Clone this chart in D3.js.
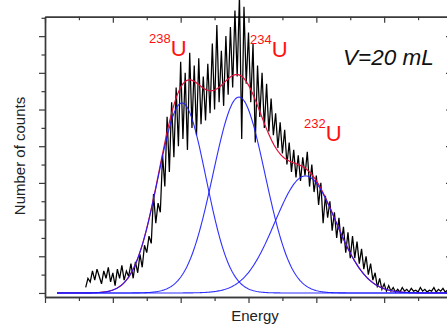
<!DOCTYPE html>
<html>
<head>
<meta charset="utf-8">
<script src="https://cdn.jsdelivr.net/npm/d3@7"></script>
<style>
  html, body { margin: 0; padding: 0; background: #fff; }
  svg { display: block; }
  text { font-family: "Liberation Sans", Arial, sans-serif; }
</style>
</head>
<body>
<svg id="chart" width="447" height="329"></svg>
<script>
// ---------------- DATA ----------------
// Measured spectrum: counts per channel, starting at channel 18
const firstChannel = 18;
const counts = [
  3, 8, 6, 12, 7, 13, 9, 5, 12, 8,
  14, 6, 11, 4, 13, 8, 15, 7, 12, 9,
  16, 8, 17, 11, 21, 14, 26, 22, 31, 27,
  54, 38, 49, 44, 75, 58, 96, 66, 104, 74,
  112, 80, 126, 84, 120, 78, 131, 90, 124, 86,
  128, 92, 118, 94, 125, 98, 136, 100, 146, 104,
  132, 102, 140, 108, 145, 112, 154, 118, 162, 84,
  156, 114, 142, 104, 136, 82, 124, 96, 120, 90,
  114, 88, 106, 86, 98, 79, 93, 76, 89, 70,
  82, 66, 78, 63, 75, 61, 74, 64, 77, 58,
  70, 55, 64, 48, 60, 38, 53, 41, 50, 34,
  44, 30, 41, 27, 36, 22, 33, 19, 31, 19,
  28, 16, 24, 13, 20, 10, 16, 7, 11, 3,
  8, 2, 5, 1, 4, 1, 3, 0.5, 2, 0.5,
  3, 1, 2, 0.5, 2.5, 1, 1.5, 0.5, 3, 1,
  2, 0.5, 1.5, 1, 3, 0.5, 2, 1, 2.5, 0.5,
  1.5, 1, 2
];

// Gaussian fit components
const peakNames   = ["238", "234", "232"];
const peakCenters = [60.6, 85.8, 115.2];   // channel
const peakWidths  = [10.6, 11.5, 13.5];    // sigma, channels
const peakHeights = [103.6, 106.8, 63.8];  // counts
const fitStart = 5.3, fitEnd = 180;

// Axis ticks (no tick labels shown)
const xMajorTicks = [0, 30, 60, 90, 120, 150, 180];
const xMinorTicks = [15, 45, 75, 105, 135, 165];
const yMajorTicks = [0, 20, 40, 60, 80, 100, 120, 140];
const yMinorTicks = [10, 30, 50, 70, 90, 110, 130, 150];

const xTitle = "Energy";
const yTitle = "Number of counts";
const volumeLabel = "V=20 mL";

// ---------------- LAYOUT ----------------
const svg = d3.select("#chart");
const mLeft = 45, mRight = 452, mTop = 16.7, mBottom = 297;
const x = d3.scaleLinear().domain([0, 180]).range([mLeft, mRight]);
const y = d3.scaleLinear().domain([-2.2, 150.6]).range([mBottom, mTop]);
const axisColor = "#3a3a3a";

function styleAxis(g) {
  g.selectAll("path.domain").attr("stroke", axisColor).attr("stroke-width", 1.4);
  g.selectAll(".tick line").attr("stroke", axisColor).attr("stroke-width", 1.2);
  g.selectAll(".tick text").remove();
}

// bottom axis (ticks outward)
svg.append("g").attr("transform", `translate(0,${mBottom})`)
  .call(d3.axisBottom(x).tickValues(xMajorTicks).tickSize(6).tickSizeOuter(0).tickFormat(""))
  .call(styleAxis);
svg.append("g").attr("transform", `translate(0,${mBottom})`)
  .call(d3.axisBottom(x).tickValues(xMinorTicks).tickSize(4).tickSizeOuter(0).tickFormat(""))
  .call(styleAxis);
// top axis (ticks inward)
svg.append("g").attr("transform", `translate(0,${mTop})`)
  .call(d3.axisBottom(x).tickValues(xMajorTicks).tickSize(6).tickSizeOuter(0).tickFormat(""))
  .call(styleAxis);
svg.append("g").attr("transform", `translate(0,${mTop})`)
  .call(d3.axisBottom(x).tickValues(xMinorTicks).tickSize(3.5).tickSizeOuter(0).tickFormat(""))
  .call(styleAxis);
// left axis (ticks outward)
svg.append("g").attr("transform", `translate(${mLeft},0)`)
  .call(d3.axisLeft(y).tickValues(yMajorTicks).tickSize(6).tickSizeOuter(0).tickFormat(""))
  .call(styleAxis);
svg.append("g").attr("transform", `translate(${mLeft},0)`)
  .call(d3.axisLeft(y).tickValues(yMinorTicks).tickSize(3.5).tickSizeOuter(0).tickFormat(""))
  .call(styleAxis);
// right axis (ticks inward)
svg.append("g").attr("transform", `translate(${mRight},0)`)
  .call(d3.axisLeft(y).tickValues(yMajorTicks).tickSize(6).tickSizeOuter(0).tickFormat(""))
  .call(styleAxis);
svg.append("g").attr("transform", `translate(${mRight},0)`)
  .call(d3.axisLeft(y).tickValues(yMinorTicks).tickSize(3.5).tickSizeOuter(0).tickFormat(""))
  .call(styleAxis);

// ---------------- MARKS ----------------
const measured = counts.map((c, i) => ({ ch: firstChannel + i, c }));
const line = d3.line().x(d => x(d.ch)).y(d => y(d.c));

// spectrum
svg.append("path").datum(measured)
  .attr("d", line).attr("fill", "none")
  .attr("stroke", "#000").attr("stroke-width", 1.25).attr("stroke-linejoin", "miter");

const gauss = (k, ch) => peakHeights[k] * Math.exp(-((ch - peakCenters[k]) ** 2) / (2 * peakWidths[k] ** 2));
const fitCh = d3.range(fitStart, fitEnd + 0.001, 0.5);

// total fit
svg.append("path")
  .datum(fitCh.map(ch => ({ ch, c: d3.sum(peakCenters, (_, k) => gauss(k, ch)) })))
  .attr("d", line).attr("fill", "none")
  .attr("stroke", "#e0103a").attr("stroke-width", 1.2);

// components
peakCenters.forEach((_, k) => {
  svg.append("path")
    .datum(fitCh.map(ch => ({ ch, c: gauss(k, ch) })))
    .attr("d", line).attr("fill", "none")
    .attr("stroke", "#1a1aff").attr("stroke-width", 1.1).attr("stroke-opacity", 0.9);
});

// ---------------- TEXT ----------------
const peakLabelPos = [
  { ch: 46.0, c: 129.2 },
  { ch: 90.7, c: 128.6 },
  { ch: 114.6, c: 82.8 }
];
peakNames.forEach((name, k) => {
  const t = svg.append("text")
    .attr("x", x(peakLabelPos[k].ch)).attr("y", y(peakLabelPos[k].c))
    .attr("fill", "#ff1010");
  t.append("tspan").attr("font-size", 13).attr("dy", -13).text(name);
  t.append("tspan").attr("font-size", 22).attr("dy", 13).text("U");
});

svg.append("text")
  .attr("x", 343).attr("y", 65)
  .attr("font-size", 22.5).attr("font-style", "italic")
  .attr("fill", "#111").text(volumeLabel);

svg.append("text")
  .attr("x", 255).attr("y", 321)
  .attr("text-anchor", "middle").attr("font-size", 15)
  .attr("fill", "#222").text(xTitle);

svg.append("text")
  .attr("transform", "translate(24.5,156) rotate(-90)")
  .attr("text-anchor", "middle").attr("font-size", 15)
  .attr("fill", "#222").text(yTitle);
</script>
</body>
</html>
